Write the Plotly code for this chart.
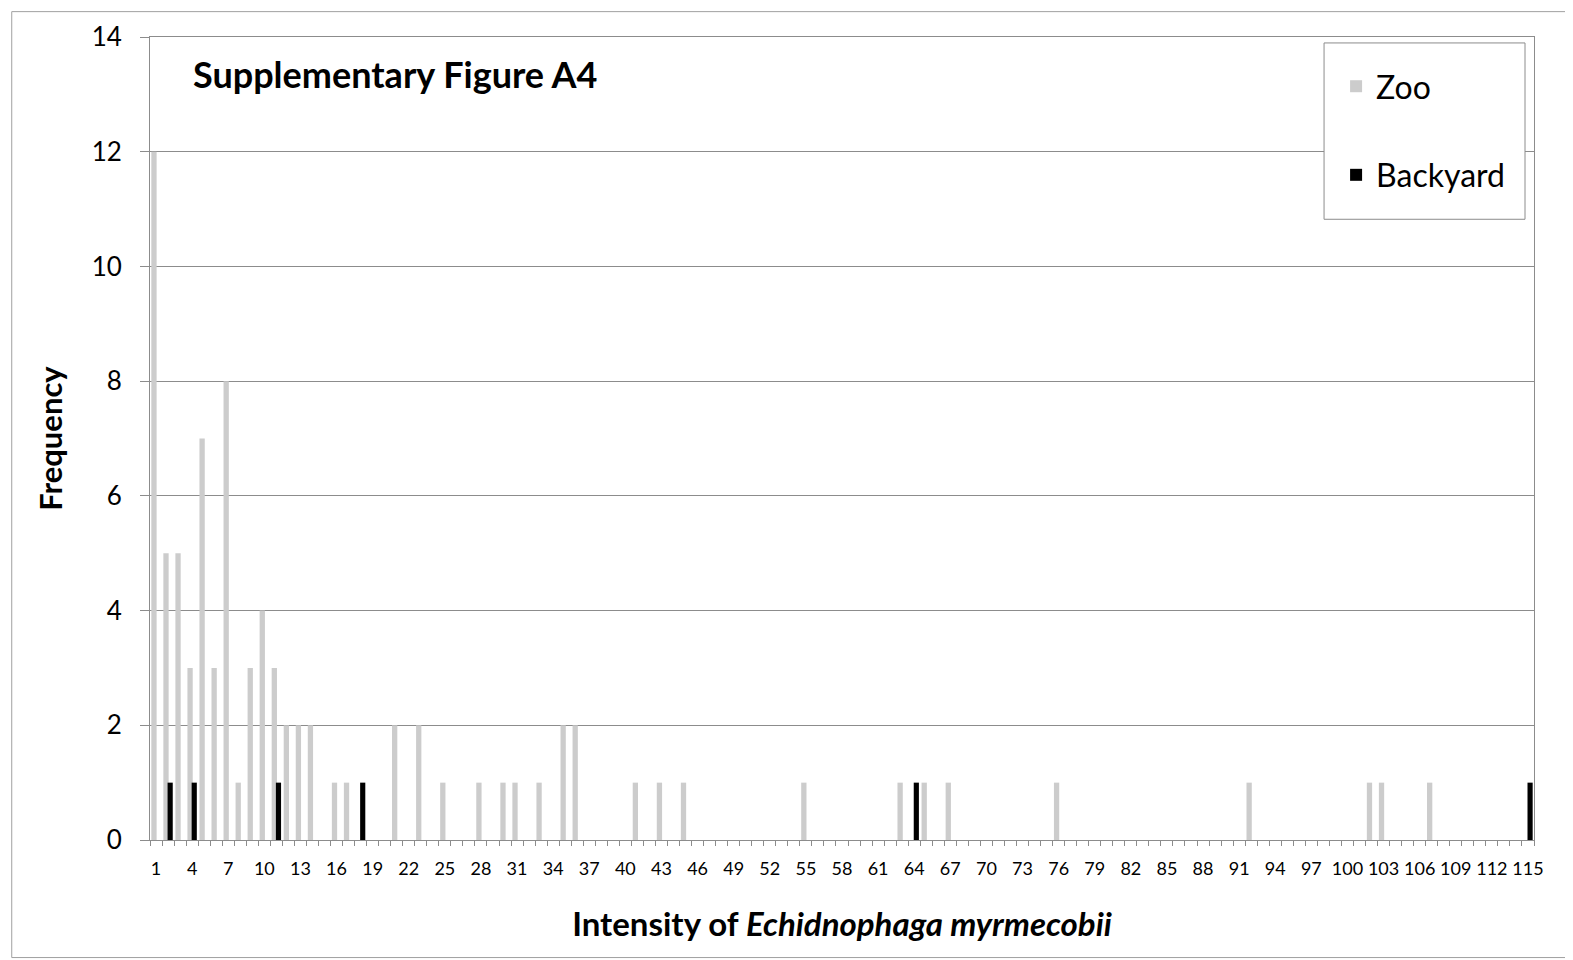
import plotly.graph_objects as go

# ---- data ----
intensity = list(range(1, 116))
zoo_counts = {1: 12, 2: 5, 3: 5, 4: 3, 5: 7, 6: 3, 7: 8, 8: 1, 9: 3, 10: 4, 11: 3,
              12: 2, 13: 2, 14: 2, 16: 1, 17: 1, 21: 2, 23: 2, 25: 1, 28: 1, 30: 1,
              31: 1, 33: 1, 35: 2, 36: 2, 41: 1, 43: 1, 45: 1, 55: 1, 63: 1, 65: 1,
              67: 1, 76: 1, 92: 1, 102: 1, 103: 1, 107: 1}
backyard_counts = {2: 1, 4: 1, 11: 1, 18: 1, 64: 1, 115: 1}
zoo = [zoo_counts.get(i, 0) for i in intensity]
backyard = [backyard_counts.get(i, 0) for i in intensity]
tick_labels = intensity[::3]
y_ticks = [0, 2, 4, 6, 8, 10, 12, 14]

FONT = "Lato"
GRID = "#8c8c8c"

fig = go.Figure()
fig.add_trace(go.Bar(x=intensity, y=zoo, name="Zoo", marker=dict(color="#cccccc", line=dict(width=0)),
                     width=0.44, offset=-0.39, legendgroup="a"))
fig.add_trace(go.Bar(x=intensity, y=backyard, name="Backyard", marker=dict(color="#000000", line=dict(width=0)),
                     width=0.43, offset=-0.04, legendgroup="b"))

fig.update_layout(
    width=1565, height=952,
    margin=dict(l=142, r=39, t=26, b=120),
    paper_bgcolor="white", plot_bgcolor="white",
    barmode="overlay",
    font=dict(family=FONT, color="black"),
    showlegend=True,
    legend=dict(x=0.857, y=0.9727, xanchor="left", yanchor="top",
                borderwidth=0, bgcolor="rgba(0,0,0,0)",
                font=dict(size=32, family=FONT), tracegroupgap=44,
                itemsizing="constant"),
    xaxis=dict(range=[0.5, 115.5], tickmode="array", tickvals=tick_labels,
               ticktext=[str(v) for v in tick_labels], ticks="",
               tickfont=dict(size=18, family=FONT), ticklabelstandoff=12,
               showline=True, linecolor=GRID, linewidth=1, mirror=True,
               showgrid=False, zeroline=False,
               minor=dict(tick0=0.5, dtick=1, ticks="outside", ticklen=5,
                          tickcolor=GRID, tickwidth=1, showgrid=False),
               title=dict(text="Intensity of <i>Echidnophaga myrmecobii</i>",
                          font=dict(size=33, family=FONT, weight="bold"), standoff=35)),
    yaxis=dict(range=[0, 14], tickmode="array", tickvals=y_ticks,
               ticks="outside", ticklen=9, tickcolor=GRID,
               tickfont=dict(size=26, family=FONT), ticklabelstandoff=13,
               showline=True, linecolor=GRID, linewidth=1, mirror=True,
               showgrid=True, gridcolor=GRID, gridwidth=1, zeroline=False,
               title=dict(text="Frequency", font=dict(size=31, family=FONT, weight="bold"), standoff=19)),
    annotations=[dict(text="Supplementary Figure A4", xref="paper", yref="paper",
                      x=0.0295, y=0.954, xanchor="left", yanchor="middle", showarrow=False,
                      font=dict(size=36, family=FONT, weight="bold"))],
    shapes=[
        dict(type="rect", xref="paper", yref="paper", x0=-0.0999, x1=1.0272,
             y0=-0.1464, y1=1.0316, line=dict(color="#a0a0a0", width=1), layer="below"),
        dict(type="rect", xref="paper", yref="paper", x0=0.8483, x1=0.9935,
             y0=0.773, y1=0.9926, line=dict(color="#8c8c8c", width=1),
             fillcolor="white", layer="above"),
    ],
)

fig.write_html("out.html")
